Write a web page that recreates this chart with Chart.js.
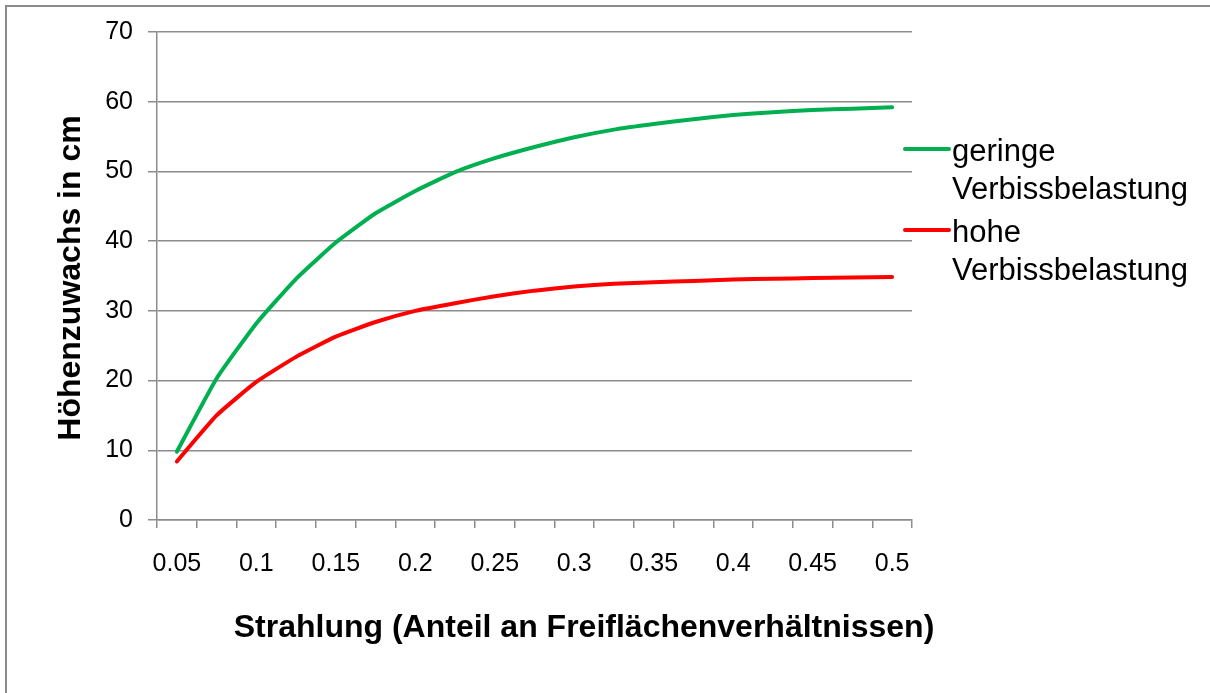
<!DOCTYPE html>
<html>
<head>
<meta charset="utf-8">
<script src="https://cdn.jsdelivr.net/npm/chart.js@4.4.1/dist/chart.umd.min.js"></script>
<style>
  html, body { margin: 0; padding: 0; background: #fff; }
  #wrap { width: 1210px; height: 693px; position: relative; }
</style>
</head>
<body>
<div id="wrap"><canvas id="chart" width="1210" height="693"></canvas></div>
<script>
// Strahlung categories (every 0.025), only every second one is labelled
const categories = ['0.05', '0.075', '0.1', '0.125', '0.15', '0.175', '0.2', '0.225', '0.25', '0.275',
                    '0.3', '0.325', '0.35', '0.375', '0.4', '0.425', '0.45', '0.475', '0.5'];
const geringe = [9.8, 20.3, 28.2, 34.6, 39.8, 44.0, 47.2, 49.9, 51.9, 53.5,
                 54.9, 56.0, 56.8, 57.5, 58.1, 58.5, 58.8, 59.0, 59.2];
const hohe = [8.4, 15.0, 19.8, 23.4, 26.3, 28.4, 30.0, 31.1, 32.1, 32.9,
              33.5, 33.9, 34.1, 34.3, 34.5, 34.6, 34.7, 34.8, 34.85];
const yTicks = [0, 10, 20, 30, 40, 50, 60, 70];
const seriesNames = [['geringe', 'Verbissbelastung'], ['hohe', 'Verbissbelastung']];
const xTitle = 'Strahlung (Anteil an Freiflächenverhältnissen)';
const yTitle = 'Höhenzuwachs in cm';

const FONT = "'Liberation Sans', Arial, sans-serif";
const GREEN = '#00b050';
const RED = '#ff0000';
const GRID = '#8c8c8c';

// frame, axis titles and legend drawn by hand
const decorations = {
  id: 'decorations',
  afterDraw(chart) {
    const ctx = chart.ctx;
    ctx.save();
    // outer frame (top + left edge visible)
    ctx.strokeStyle = '#8a8a8a';
    ctx.lineWidth = 2;
    ctx.beginPath();
    ctx.moveTo(6, 693);
    ctx.lineTo(6, 6);
    ctx.lineTo(1210, 6);
    ctx.stroke();

    ctx.fillStyle = '#000';
    ctx.font = 'bold 32px ' + FONT;
    ctx.textAlign = 'center';
    ctx.textBaseline = 'middle';
    ctx.fillText(xTitle, 584, 628);

    ctx.translate(71, 278);
    ctx.rotate(-Math.PI / 2);
    ctx.fillText(yTitle, 0, 0);
    ctx.restore();

    // legend
    ctx.save();
    const colors = [GREEN, RED];
    const lineY = [149, 230];
    ctx.font = '31px ' + FONT;
    ctx.textAlign = 'left';
    ctx.textBaseline = 'alphabetic';
    colors.forEach((c, i) => {
      ctx.strokeStyle = c;
      ctx.lineWidth = 4;
      ctx.lineCap = 'round';
      ctx.beginPath();
      ctx.moveTo(905, lineY[i]);
      ctx.lineTo(949, lineY[i]);
      ctx.stroke();
      ctx.fillStyle = '#000';
      ctx.fillText(seriesNames[i][0], 952, lineY[i] + 12);
      ctx.fillText(seriesNames[i][1], 952, lineY[i] + 50);
    });
    ctx.restore();
  }
};

new Chart(document.getElementById('chart'), {
  type: 'line',
  data: {
    labels: categories,
    datasets: [
      { label: seriesNames[0].join(' '), data: geringe, borderColor: GREEN, borderWidth: 4,
        pointRadius: 0, tension: 0.15, borderCapStyle: 'round', borderJoinStyle: 'round' },
      { label: seriesNames[1].join(' '), data: hohe, borderColor: RED, borderWidth: 4,
        pointRadius: 0, tension: 0.15, borderCapStyle: 'round', borderJoinStyle: 'round' }
    ]
  },
  options: {
    responsive: false,
    animation: false,
    layout: { padding: { left: 0, top: 32, right: 298, bottom: 0 } },
    plugins: { legend: { display: false }, tooltip: { enabled: false } },
    scales: {
      x: {
        type: 'category',
        offset: true,
        afterFit: (s) => { s.height = 173; },
        grid: { offset: true, drawOnChartArea: false, drawTicks: true, tickLength: 8, color: GRID, lineWidth: 1.5 },
        border: { color: GRID, width: 1.5 },
        ticks: {
          autoSkip: false, maxRotation: 0, padding: 21, color: '#000',
          font: { family: FONT, size: 25 },
          callback: (v, i) => (i % 2 === 0 ? categories[i] : '')
        }
      },
      y: {
        min: 0, max: 70,
        afterFit: (s) => { s.width = 157; },
        afterBuildTicks: (s) => { s.ticks = yTicks.map(v => ({ value: v })); },
        grid: { color: GRID, lineWidth: 1.5, tickLength: 9 },
        border: { color: GRID, width: 1.5 },
        ticks: { padding: 15, color: '#000', font: { family: FONT, size: 25 } }
      }
    }
  },
  plugins: [decorations]
});
</script>
</body>
</html>
